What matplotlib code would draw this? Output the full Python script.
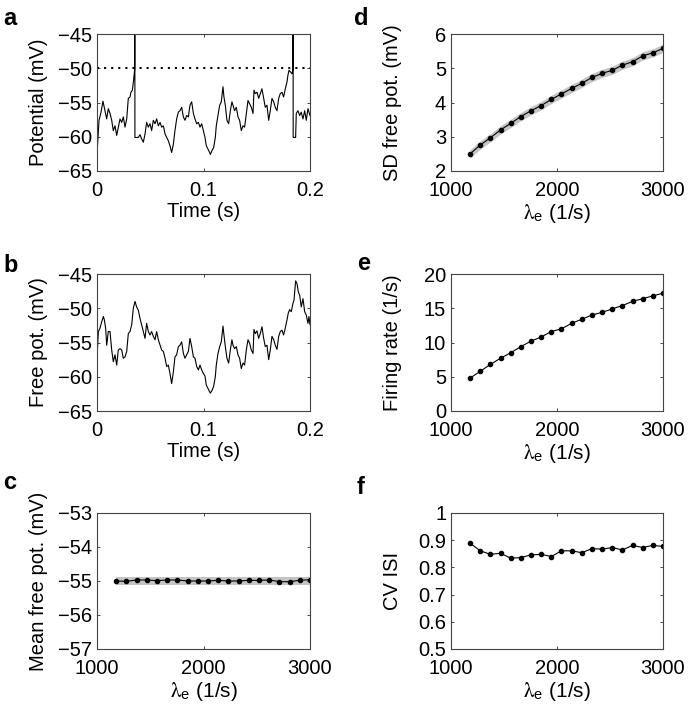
import numpy as np
import matplotlib
matplotlib.use("Agg")
import matplotlib.pyplot as plt

plt.rcParams['font.family'] = ['Liberation Sans', 'DejaVu Sans']
plt.rcParams['mathtext.fontset'] = 'stix'
plt.rcParams['font.size'] = 14.5

# ---------------- data ----------------
# panel a: membrane potential (mV) vs time (s), with two spikes
t_a = [0.0000, 0.0019, 0.0038, 0.0056, 0.0075, 0.0091, 0.0106, 0.0122, 0.0138, 0.0153,
       0.0169, 0.0185, 0.0200, 0.0216, 0.0232, 0.0247, 0.0263, 0.0279, 0.0294, 0.0310,
       0.0319, 0.0332, 0.0344, 0.0354, 0.0355, 0.0356, 0.0388, 0.0404, 0.0419, 0.0435,
       0.0451, 0.0466, 0.0482, 0.0498, 0.0513, 0.0529, 0.0545, 0.0560, 0.0576, 0.0592,
       0.0607, 0.0623, 0.0639, 0.0654, 0.0670, 0.0685, 0.0701, 0.0717, 0.0732, 0.0748,
       0.0764, 0.0779, 0.0795, 0.0811, 0.0826, 0.0842, 0.0858, 0.0873, 0.0889, 0.0905,
       0.0920, 0.0936, 0.0952, 0.0967, 0.0983, 0.0998, 0.1014, 0.1026, 0.1042, 0.1058,
       0.1064, 0.1080, 0.1095, 0.1111, 0.1120, 0.1136, 0.1152, 0.1167, 0.1183, 0.1192,
       0.1205, 0.1220, 0.1236, 0.1252, 0.1267, 0.1277, 0.1292, 0.1308, 0.1324, 0.1339,
       0.1355, 0.1371, 0.1386, 0.1402, 0.1418, 0.1433, 0.1449, 0.1465, 0.1474, 0.1486,
       0.1502, 0.1518, 0.1533, 0.1549, 0.1565, 0.1580, 0.1596, 0.1612, 0.1627, 0.1643,
       0.1659, 0.1674, 0.1690, 0.1706, 0.1721, 0.1737, 0.1752, 0.1768, 0.1784, 0.1793,
       0.1803, 0.1815, 0.1831, 0.1840, 0.1841, 0.1842, 0.1865, 0.1871, 0.1887, 0.1903,
       0.1918, 0.1934, 0.1950, 0.1965, 0.1981, 0.2000]
v_a = [-62.5, -57.6, -56.4, -54.8, -56.2, -57.4, -55.9, -56.6, -57.6, -59.1,
       -58.4, -59.8, -58.6, -57.4, -57.9, -57.1, -58.6, -57.4, -54.4, -54.2,
       -53.5, -53.2, -51.7, -50.1, -30.0, -60.1, -60.1, -59.7, -60.3, -60.8,
       -59.6, -57.9, -58.6, -58.1, -59.1, -57.6, -58.1, -57.4, -58.4, -57.9,
       -58.6, -58.4, -59.6, -60.1, -60.6, -61.3, -62.3, -61.1, -59.1, -57.4,
       -56.4, -56.2, -55.7, -57.1, -57.6, -56.9, -57.1, -55.4, -54.9, -56.6,
       -57.4, -58.1, -57.9, -58.6, -58.1, -59.1, -60.1, -61.3, -61.8, -62.3,
       -62.6, -62.0, -61.6, -60.1, -58.4, -56.9, -55.4, -54.9, -52.7, -54.2,
       -55.4, -57.6, -58.1, -56.2, -54.9, -55.4, -56.2, -55.7, -57.1, -57.6,
       -59.1, -58.4, -58.6, -56.6, -54.7, -55.2, -55.7, -56.6, -53.2, -53.7,
       -53.5, -54.4, -53.7, -53.0, -54.4, -55.7, -55.4, -57.6, -56.2, -54.4,
       -54.9, -55.7, -56.2, -54.4, -53.7, -53.5, -54.2, -53.0, -52.0, -51.0,
       -50.3, -50.5, -50.8, -50.1, -30.0, -60.1, -60.1, -56.6, -56.2, -56.9,
       -56.4, -57.4, -56.2, -57.6, -55.9, -56.9]
threshold = -50.0

# panel b: free membrane potential (mV) vs time (s)
t_b = [0.0000, 0.0013, 0.0028, 0.0044, 0.0060, 0.0069, 0.0081, 0.0091, 0.0106, 0.0122,
       0.0138, 0.0153, 0.0169, 0.0185, 0.0200, 0.0216, 0.0232, 0.0247, 0.0263, 0.0279,
       0.0294, 0.0310, 0.0326, 0.0341, 0.0357, 0.0372, 0.0388, 0.0404, 0.0419, 0.0435,
       0.0451, 0.0466, 0.0482, 0.0498, 0.0513, 0.0529, 0.0545, 0.0560, 0.0576, 0.0592,
       0.0607, 0.0623, 0.0639, 0.0654, 0.0670, 0.0685, 0.0701, 0.0717, 0.0732, 0.0748,
       0.0764, 0.0779, 0.0795, 0.0811, 0.0826, 0.0842, 0.0858, 0.0873, 0.0889, 0.0905,
       0.0920, 0.0936, 0.0952, 0.0967, 0.0983, 0.0998, 0.1014, 0.1026, 0.1042, 0.1064,
       0.1080, 0.1095, 0.1111, 0.1120, 0.1136, 0.1152, 0.1167, 0.1183, 0.1192, 0.1205,
       0.1220, 0.1236, 0.1252, 0.1267, 0.1277, 0.1292, 0.1308, 0.1324, 0.1339, 0.1355,
       0.1371, 0.1386, 0.1402, 0.1418, 0.1433, 0.1449, 0.1465, 0.1474, 0.1486, 0.1502,
       0.1518, 0.1533, 0.1549, 0.1565, 0.1580, 0.1596, 0.1612, 0.1627, 0.1643, 0.1659,
       0.1674, 0.1690, 0.1706, 0.1721, 0.1737, 0.1752, 0.1768, 0.1784, 0.1796, 0.1809,
       0.1824, 0.1840, 0.1850, 0.1865, 0.1878, 0.1890, 0.1903, 0.1918, 0.1934, 0.1950,
       0.1965, 0.1981, 0.1990, 0.2000]
v_b = [-57.3, -53.4, -52.9, -52.0, -51.2, -51.7, -52.9, -55.4, -53.4, -53.4,
       -56.1, -57.8, -56.8, -58.3, -56.1, -55.9, -56.1, -57.3, -57.1, -56.3,
       -53.7, -53.4, -52.4, -50.0, -49.0, -49.8, -50.3, -51.5, -52.4, -53.4,
       -54.4, -52.2, -53.4, -53.9, -53.4, -54.1, -54.6, -53.4, -54.6, -55.4,
       -56.1, -56.3, -57.3, -58.5, -58.3, -59.5, -61.0, -59.3, -57.1, -56.8,
       -55.6, -55.4, -54.9, -56.6, -57.3, -56.8, -56.3, -54.4, -55.6, -57.1,
       -57.3, -58.5, -59.0, -58.3, -59.0, -59.5, -59.9, -61.2, -61.7, -62.4,
       -62.0, -61.4, -60.0, -58.3, -56.6, -55.6, -54.9, -52.6, -53.9, -55.6,
       -57.3, -58.0, -56.1, -54.6, -55.4, -55.9, -55.6, -56.8, -57.3, -58.8,
       -58.0, -58.3, -56.1, -54.6, -55.1, -56.1, -56.6, -53.1, -53.7, -53.3,
       -54.4, -53.7, -52.7, -54.4, -55.6, -55.4, -57.5, -56.1, -54.1, -54.6,
       -55.4, -56.0, -54.1, -53.4, -53.2, -53.9, -52.9, -51.7, -50.7, -50.2,
       -50.5, -49.3, -48.8, -46.0, -46.4, -47.6, -48.1, -49.8, -48.6, -50.5,
       -51.0, -52.2, -51.2, -52.4]

# panels c-f: excitatory input rate lambda_e (1/s)
lam_e = [1180, 1276, 1372, 1467, 1563, 1659, 1755, 1851, 1946, 2042,
         2138, 2234, 2329, 2425, 2521, 2617, 2713, 2808, 2904, 3000]
mean_free = [-55.00, -55.01, -54.97, -54.97, -54.99, -54.97, -54.97, -55.00, -55.00, -55.00,
             -54.98, -55.00, -55.00, -54.98, -54.98, -54.97, -55.02, -55.02, -54.98, -54.96]
mean_theory = -55.0
mean_band = 0.12
sd_free = [2.50, 2.76, 2.97, 3.20, 3.39, 3.59, 3.76, 3.91, 4.09, 4.25,
           4.41, 4.56, 4.73, 4.85, 4.94, 5.09, 5.19, 5.36, 5.45, 5.58]
sd_band = 0.12
rate = [4.8, 5.8, 6.8, 7.7, 8.5, 9.4, 10.2, 10.8, 11.6, 12.0,
        12.8, 13.4, 14.0, 14.4, 14.9, 15.4, 16.0, 16.4, 16.8, 17.2]
cv_isi = [0.889, 0.861, 0.848, 0.852, 0.834, 0.836, 0.846, 0.848, 0.840, 0.861,
          0.861, 0.854, 0.869, 0.867, 0.873, 0.864, 0.881, 0.873, 0.881, 0.877]

# ---------------- figure ----------------
W, H = 695, 720
fig = plt.figure(figsize=(W / 100, H / 100), dpi=100)

def px_axes(x0, y0, x1, y1):
    return fig.add_axes([x0 / W, 1 - y1 / H, (x1 - x0) / W, (y1 - y0) / H])

ax_a = px_axes(97, 34, 310, 171)
ax_b = px_axes(97, 274, 310, 411)
ax_c = px_axes(97, 513, 310, 649)
ax_d = px_axes(451, 34, 663, 171)
ax_e = px_axes(451, 274, 663, 411)
ax_f = px_axes(451, 513, 663, 649)

trace_kw = dict(color='black', lw=0.8)
dot_kw = dict(color='black', lw=0.8, marker='o', ms=3.0)
band_color = '#c4c4c4'

ax_a.plot(t_a, v_a, **trace_kw)
ax_a.axhline(threshold, color='black', lw=1.5, linestyle=(0, (1, 2.4)))
ax_b.plot(t_b, v_b, **trace_kw)

lam = np.array(lam_e)
ax_c.fill_between(lam, mean_theory - mean_band, mean_theory + mean_band,
                  color=band_color, lw=0)
ax_c.plot(lam_e, mean_free, **dot_kw)
sd = np.array(sd_free)
ax_d.fill_between(lam, sd - sd_band, sd + sd_band, color=band_color, lw=0)
ax_d.plot(lam_e, sd_free, **dot_kw)
ax_e.plot(lam_e, rate, **dot_kw)
ax_f.plot(lam_e, cv_isi, **dot_kw)

for ax in (ax_a, ax_b):
    ax.set_xlim(0, 0.2)
    ax.set_ylim(-65, -45)
    ax.set_xticks([0, 0.1, 0.2])
    ax.set_xticklabels(['0', '0.1', '0.2'])
    ax.set_yticks([-65, -60, -55, -50, -45])
    ax.set_xlabel('Time (s)')
ax_a.set_ylabel('Potential (mV)')
ax_b.set_ylabel('Free pot. (mV)')

lam_label = r'$\mathrm{\lambda}_{\mathregular{e}}$ (1/s)'
for ax in (ax_c, ax_d, ax_e, ax_f):
    ax.set_xlim(1000, 3000)
    ax.set_xticks([1000, 2000, 3000])
    ax.set_xlabel(lam_label, fontsize=15)

ax_c.set_ylim(-57, -53)
ax_c.set_yticks([-57, -56, -55, -54, -53])
ax_c.set_ylabel('Mean free pot. (mV)')
ax_d.set_ylim(2, 6)
ax_d.set_yticks([2, 3, 4, 5, 6])
ax_d.set_ylabel('SD free pot. (mV)')
ax_e.set_ylim(0, 20)
ax_e.set_yticks([0, 5, 10, 15, 20])
ax_e.set_ylabel('Firing rate (1/s)')
ax_f.set_ylim(0.5, 1)
ax_f.set_yticks([0.5, 0.6, 0.7, 0.8, 0.9, 1.0])
ax_f.set_yticklabels(['0.5', '0.6', '0.7', '0.8', '0.9', '1'])
ax_f.set_ylabel('CV ISI')

for ax in (ax_a, ax_b, ax_c, ax_d, ax_e, ax_f):
    for s in ax.spines.values():
        s.set_color('#444444')
        s.set_linewidth(0.8)
    ax.tick_params(direction='in', length=2.5, width=0.7, color='#444444',
                   top=True, right=True, labelsize=14.5)
    ax.tick_params(axis='y', pad=3.5)
    ax.tick_params(axis='x', pad=7.5)
    bbox_w = ax.get_position().width * W
    bbox_h = ax.get_position().height * H
    ax.yaxis.set_label_coords(-49 / bbox_w, 0.5)
    ax.xaxis.set_label_coords(0.5, -31 / bbox_h)

letters = [('a', 3, 25), ('b', 3, 272), ('c', 3, 489),
           ('d', 354, 25), ('e', 357, 270), ('f', 357, 494)]
for s, x, y in letters:
    fig.text(x / W, 1 - y / H, s, fontsize=17, fontweight='bold',
             ha='left', va='baseline')

fig.savefig('out.png', dpi=100)
